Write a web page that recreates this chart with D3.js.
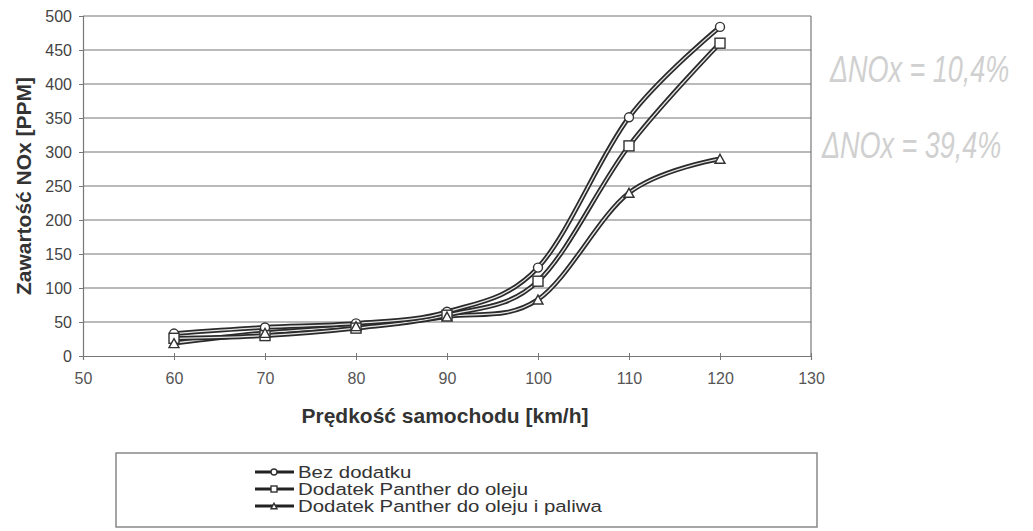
<!DOCTYPE html>
<html>
<head>
<meta charset="utf-8">
<script src="https://cdn.jsdelivr.net/npm/d3@7"></script>
<style>
  body { margin: 0; background: #fff; }
  svg { display: block; font-family: "Liberation Sans", Arial, sans-serif; }
</style>
</head>
<body>
<svg id="chart" width="1033" height="531"></svg>
<script>
// predkosc samochodu [km/h]
const speeds = [60, 70, 80, 90, 100, 110, 120];
// zawartosc NOx [PPM]
const bezDodatku = [33, 42, 48, 65, 130, 351, 484];
const pantherOlej = [26, 30, 41, 60, 110, 309, 460];
const pantherOlejPaliwo = [19, 34, 44, 58, 83, 240, 290];

const seriesNames = ["Bez dodatku", "Dodatek Panther do oleju", "Dodatek Panther do oleju i paliwa"];
const seriesMarkers = ["circle", "square", "triangle"];
const xTicks = [50, 60, 70, 80, 90, 100, 110, 120, 130];
const yTicks = [0, 50, 100, 150, 200, 250, 300, 350, 400, 450, 500];
const notes = ["\u0394NOx = 10,4%", "\u0394NOx = 39,4%"];

const svg = d3.select("#chart");

const x = d3.scaleLinear().domain([50, 130]).range([83, 811]);
const y = d3.scaleLinear().domain([0, 500]).range([356, 16]);

// gridlines
svg.append("g")
  .selectAll("line")
  .data(yTicks.filter(d => d > 0))
  .enter()
  .append("line")
  .attr("x1", x(50))
  .attr("x2", x(130))
  .attr("y1", d => y(d))
  .attr("y2", d => y(d))
  .attr("stroke", "#777")
  .attr("stroke-width", 1.2);

// right border of plot area
svg.append("line")
  .attr("x1", x(130)).attr("x2", x(130))
  .attr("y1", y(500)).attr("y2", y(0))
  .attr("stroke", "#777")
  .attr("stroke-width", 1.2);

// y axis
const yAxis = svg.append("g")
  .attr("transform", `translate(${x(50)},0)`)
  .call(d3.axisLeft(y).tickValues(yTicks).tickSize(4).tickPadding(7));
yAxis.select(".domain").attr("stroke", "#777").attr("stroke-width", 1.2);
yAxis.selectAll(".tick line").attr("stroke", "#777");
yAxis.selectAll("text")
  .attr("fill", "#444")
  .style("font-size", "16px");

// x axis
const xAxis = svg.append("g")
  .attr("transform", `translate(0,${y(0)})`)
  .call(d3.axisBottom(x).tickValues(xTicks).tickSize(4).tickPadding(13));
xAxis.select(".domain").attr("stroke", "#777").attr("stroke-width", 1.2);
xAxis.selectAll(".tick line").attr("stroke", "#777").attr("y1", -3);
xAxis.selectAll("text")
  .attr("fill", "#555")
  .style("font-size", "16px");

// axis titles
svg.append("text")
  .attr("transform", "translate(31,186) rotate(-90)")
  .attr("text-anchor", "middle")
  .attr("font-weight", "bold")
  .attr("font-size", 21)
  .attr("fill", "#333")
  .text("Zawartość NOx [PPM]");

svg.append("text")
  .attr("x", 445)
  .attr("y", 423)
  .attr("text-anchor", "middle")
  .attr("font-weight", "bold")
  .attr("font-size", 21)
  .attr("fill", "#333")
  .text("Prędkość samochodu [km/h]");

// series
const series = [bezDodatku, pantherOlej, pantherOlejPaliwo].map((vals, i) => ({
  name: seriesNames[i],
  marker: seriesMarkers[i],
  points: speeds.map((s, j) => ({ x: s, y: vals[j] }))
}));

const line = d3.line()
  .x(d => x(d.x))
  .y(d => y(d.y))
  .curve(d3.curveCatmullRom.alpha(0));

function marker(sel, type, size) {
  if (type == "circle") {
    sel.append("circle").attr("r", size / 2);
  } else if (type == "square") {
    sel.append("rect")
      .attr("x", -size / 2).attr("y", -size / 2)
      .attr("width", size).attr("height", size);
  } else {
    let h = size * 0.9;
    sel.append("path")
      .attr("d", `M0,${-h / 2}L${size / 2},${h / 2}L${-size / 2},${h / 2}Z`);
  }
  sel.attr("fill", "#fff").attr("stroke", "#333").attr("stroke-width", 1.4);
}

const lines = svg.append("g");
series.slice().reverse().forEach(s => {
  lines.append("path")
    .attr("d", line(s.points))
    .attr("fill", "none")
    .attr("stroke", "#2a2a2a")
    .attr("stroke-width", 4.8);
  lines.append("path")
    .attr("d", line(s.points))
    .attr("fill", "none")
    .attr("stroke", "#e4e4e4")
    .attr("stroke-width", 1.3);
});

series.forEach(s => {
  svg.append("g")
    .selectAll("g")
    .data(s.points)
    .enter()
    .append("g")
    .attr("transform", d => `translate(${x(d.x)},${y(d.y)})`)
    .each(function() {
      marker(d3.select(this), s.marker, s.marker == "circle" ? 9 : 10);
    });
});

// legend
svg.append("rect")
  .attr("x", 116).attr("y", 453)
  .attr("width", 701).attr("height", 74)
  .attr("fill", "none")
  .attr("stroke", "#888")
  .attr("stroke-width", 1.5);

const legend = svg.append("g")
  .selectAll("g")
  .data(series)
  .enter()
  .append("g")
  .attr("transform", (d, i) => `translate(0,${472 + i * 17})`);

legend.append("line")
  .attr("x1", 255).attr("x2", 294)
  .attr("stroke", "#222")
  .attr("stroke-width", 3);

legend.each(function(d) {
  let g = d3.select(this).append("g").attr("transform", "translate(274,0)");
  marker(g, d.marker, 6);
});

legend.append("text")
  .attr("transform", "translate(298,6) scale(1.2,1)")
  .attr("font-size", 17)
  .attr("fill", "#333")
  .text(d => d.name);

// handwritten notes
svg.append("g")
  .selectAll("text")
  .data(notes)
  .enter()
  .append("text")
  .attr("transform", (d, i) => i == 0 ? "translate(830,82) scale(1,1.35)" : "translate(822,158) scale(1,1.35)")
  .attr("font-size", 27)
  .attr("font-style", "italic")
  .attr("fill", "#d0d0d0")
  .text(d => d);
</script>
</body>
</html>
